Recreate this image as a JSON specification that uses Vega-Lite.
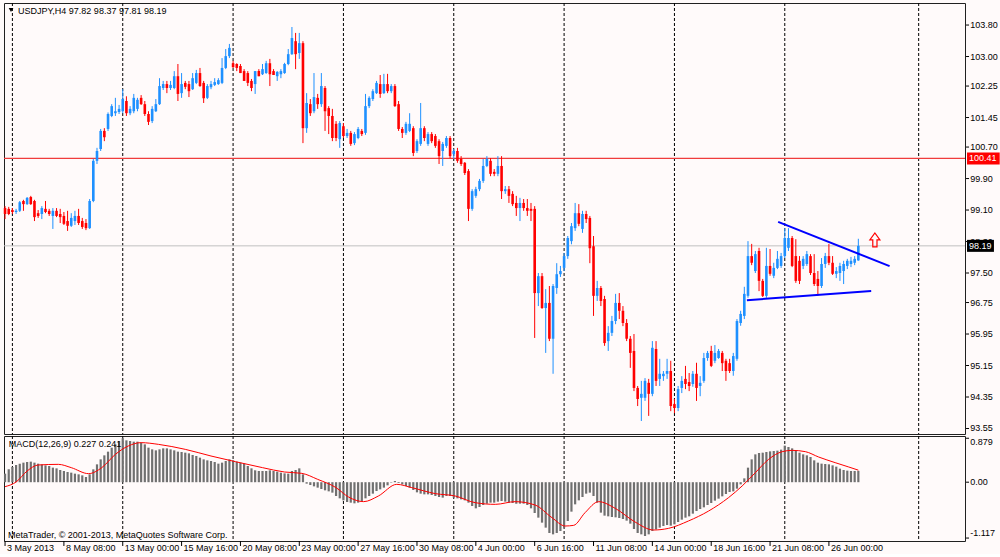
{
  "$schema": "https://vega.github.io/schema/vega-lite/v6.json",
  "background": "#FFFAFA",
  "padding": {"left": 2, "top": 2, "right": 0, "bottom": 0},
  "spacing": 2,
  "bounds": "flush",
  "config": {
    "view": {"stroke": "#202020", "strokeWidth": 1},
    "scale": {"continuousPadding": 0},
    "text": {"font": "Liberation Sans", "fontSize": 9, "color": "#000000"}
  },
  "datasets": {
    "bars": [
      {"i":0,"o":99.15,"h":99.20,"l":98.87,"c":99.00,"m":0.171},
      {"i":1,"o":99.13,"h":99.18,"l":98.97,"c":99.00,"m":0.257},
      {"i":2,"o":99.10,"h":99.15,"l":99.00,"c":99.05,"m":0.304},
      {"i":3,"o":99.05,"h":99.13,"l":99.00,"c":99.08,"m":0.344},
      {"i":4,"o":99.08,"h":99.33,"l":99.05,"c":99.30,"m":0.371},
      {"i":5,"o":99.33,"h":99.36,"l":99.08,"c":99.25,"m":0.391},
      {"i":6,"o":99.25,"h":99.43,"l":99.23,"c":99.41,"m":0.404},
      {"i":7,"o":99.43,"h":99.46,"l":99.23,"c":99.25,"m":0.411},
      {"i":8,"o":99.33,"h":99.36,"l":98.82,"c":98.92,"m":0.391},
      {"i":9,"o":99.02,"h":99.10,"l":98.90,"c":98.95,"m":0.371},
      {"i":10,"o":99.00,"h":99.20,"l":98.87,"c":99.15,"m":0.357},
      {"i":11,"o":99.13,"h":99.33,"l":99.02,"c":99.05,"m":0.337},
      {"i":12,"o":99.08,"h":99.13,"l":98.95,"c":99.00,"m":0.324},
      {"i":13,"o":98.95,"h":99.15,"l":98.62,"c":99.08,"m":0.291},
      {"i":14,"o":99.08,"h":99.15,"l":98.92,"c":98.95,"m":0.277},
      {"i":15,"o":99.00,"h":99.13,"l":98.77,"c":98.92,"m":0.244},
      {"i":16,"o":98.95,"h":99.05,"l":98.72,"c":98.75,"m":0.224},
      {"i":17,"o":98.82,"h":99.08,"l":98.57,"c":98.70,"m":0.204},
      {"i":18,"o":98.70,"h":99.02,"l":98.67,"c":98.90,"m":0.191},
      {"i":19,"o":98.82,"h":99.08,"l":98.72,"c":98.95,"m":0.171},
      {"i":20,"o":98.95,"h":99.13,"l":98.72,"c":98.77,"m":0.157},
      {"i":21,"o":98.82,"h":98.90,"l":98.62,"c":98.67,"m":0.137},
      {"i":22,"o":98.77,"h":98.87,"l":98.59,"c":98.64,"m":0.104},
      {"i":23,"o":98.64,"h":99.38,"l":98.62,"c":99.33,"m":0.157},
      {"i":24,"o":99.33,"h":100.40,"l":99.30,"c":100.35,"m":0.257},
      {"i":25,"o":100.35,"h":100.68,"l":100.27,"c":100.60,"m":0.357},
      {"i":26,"o":100.65,"h":101.16,"l":100.60,"c":101.11,"m":0.457},
      {"i":27,"o":101.11,"h":101.18,"l":100.85,"c":100.95,"m":0.537},
      {"i":28,"o":101.16,"h":101.58,"l":101.11,"c":101.54,"m":0.611},
      {"i":29,"o":101.49,"h":101.79,"l":101.46,"c":101.74,"m":0.691},
      {"i":30,"o":101.56,"h":101.95,"l":101.49,"c":101.61,"m":0.757},
      {"i":31,"o":101.59,"h":101.77,"l":101.54,"c":101.67,"m":0.824},
      {"i":32,"o":101.61,"h":102.17,"l":101.56,"c":101.92,"m":0.879},
      {"i":33,"o":101.87,"h":101.99,"l":101.49,"c":101.56,"m":0.837},
      {"i":34,"o":101.56,"h":101.74,"l":101.51,"c":101.67,"m":0.824},
      {"i":35,"o":101.61,"h":102.05,"l":101.56,"c":101.95,"m":0.811},
      {"i":36,"o":101.67,"h":101.95,"l":101.61,"c":101.90,"m":0.811},
      {"i":37,"o":101.95,"h":102.02,"l":101.77,"c":101.79,"m":0.791},
      {"i":38,"o":101.79,"h":101.87,"l":101.49,"c":101.54,"m":0.757},
      {"i":39,"o":101.54,"h":101.61,"l":101.26,"c":101.34,"m":0.691},
      {"i":40,"o":101.36,"h":101.74,"l":101.31,"c":101.67,"m":0.657},
      {"i":41,"o":101.61,"h":101.92,"l":101.59,"c":101.79,"m":0.637},
      {"i":42,"o":101.79,"h":102.45,"l":101.77,"c":102.25,"m":0.657},
      {"i":43,"o":102.20,"h":102.38,"l":102.15,"c":102.30,"m":0.677},
      {"i":44,"o":102.30,"h":102.38,"l":102.07,"c":102.20,"m":0.677},
      {"i":45,"o":102.20,"h":102.38,"l":102.15,"c":102.28,"m":0.657},
      {"i":46,"o":102.20,"h":102.63,"l":102.17,"c":102.50,"m":0.637},
      {"i":47,"o":102.50,"h":102.81,"l":101.87,"c":102.05,"m":0.611},
      {"i":48,"o":102.07,"h":102.58,"l":101.95,"c":102.30,"m":0.604},
      {"i":49,"o":102.33,"h":102.38,"l":102.17,"c":102.23,"m":0.591},
      {"i":50,"o":102.30,"h":102.38,"l":101.97,"c":102.12,"m":0.577},
      {"i":51,"o":102.17,"h":102.58,"l":102.15,"c":102.45,"m":0.544},
      {"i":52,"o":102.33,"h":102.66,"l":102.30,"c":102.58,"m":0.524},
      {"i":53,"o":102.58,"h":102.71,"l":102.23,"c":102.25,"m":0.491},
      {"i":54,"o":102.33,"h":102.38,"l":101.82,"c":101.94,"m":0.457},
      {"i":55,"o":101.95,"h":102.30,"l":101.92,"c":102.25,"m":0.437},
      {"i":56,"o":102.22,"h":102.38,"l":102.17,"c":102.30,"m":0.424},
      {"i":57,"o":102.28,"h":102.45,"l":102.25,"c":102.35,"m":0.404},
      {"i":58,"o":102.30,"h":102.45,"l":102.28,"c":102.40,"m":0.371},
      {"i":59,"o":102.33,"h":102.96,"l":102.30,"c":102.71,"m":0.391},
      {"i":60,"o":102.71,"h":103.19,"l":102.68,"c":103.01,"m":0.424},
      {"i":61,"o":103.01,"h":103.32,"l":102.96,"c":103.22,"m":0.457},
      {"i":62,"o":102.83,"h":102.89,"l":102.71,"c":102.73,"m":0.437},
      {"i":63,"o":102.81,"h":102.83,"l":102.63,"c":102.71,"m":0.411},
      {"i":64,"o":102.76,"h":102.81,"l":102.58,"c":102.58,"m":0.391},
      {"i":65,"o":102.63,"h":102.68,"l":102.38,"c":102.38,"m":0.371},
      {"i":66,"o":102.58,"h":102.63,"l":102.25,"c":102.33,"m":0.324},
      {"i":67,"o":102.38,"h":102.43,"l":102.12,"c":102.20,"m":0.277},
      {"i":68,"o":102.30,"h":102.63,"l":102.05,"c":102.63,"m":0.237},
      {"i":69,"o":102.63,"h":102.68,"l":102.50,"c":102.50,"m":0.224},
      {"i":70,"o":102.55,"h":102.81,"l":102.53,"c":102.68,"m":0.224},
      {"i":71,"o":102.58,"h":102.89,"l":102.56,"c":102.83,"m":0.224},
      {"i":72,"o":102.83,"h":102.94,"l":102.25,"c":102.55,"m":0.237},
      {"i":73,"o":102.63,"h":102.68,"l":102.53,"c":102.53,"m":0.224},
      {"i":74,"o":102.50,"h":102.63,"l":102.38,"c":102.61,"m":0.211},
      {"i":75,"o":102.55,"h":102.68,"l":102.45,"c":102.63,"m":0.191},
      {"i":76,"o":102.58,"h":102.84,"l":102.56,"c":102.81,"m":0.177},
      {"i":77,"o":102.81,"h":103.19,"l":102.78,"c":103.06,"m":0.171},
      {"i":78,"o":103.06,"h":103.75,"l":103.04,"c":103.47,"m":0.224},
      {"i":79,"o":103.39,"h":103.60,"l":102.68,"c":103.06,"m":0.244},
      {"i":80,"o":103.09,"h":103.60,"l":102.94,"c":103.34,"m":0.277},
      {"i":81,"o":103.34,"h":103.39,"l":100.80,"c":101.18,"m":0.157},
      {"i":82,"o":101.18,"h":102.07,"l":101.06,"c":101.82,"m":-0.029},
      {"i":83,"o":101.79,"h":101.92,"l":101.49,"c":101.56,"m":-0.056},
      {"i":84,"o":101.61,"h":102.58,"l":101.56,"c":101.97,"m":-0.083},
      {"i":85,"o":101.95,"h":102.05,"l":101.67,"c":101.79,"m":-0.109},
      {"i":86,"o":101.79,"h":102.58,"l":101.72,"c":102.25,"m":-0.136},
      {"i":87,"o":102.20,"h":102.25,"l":101.11,"c":101.61,"m":-0.163},
      {"i":88,"o":101.69,"h":101.74,"l":101.03,"c":101.49,"m":-0.183},
      {"i":89,"o":101.49,"h":101.67,"l":100.85,"c":100.93,"m":-0.209},
      {"i":90,"o":101.29,"h":101.36,"l":100.85,"c":100.93,"m":-0.276},
      {"i":91,"o":100.90,"h":101.36,"l":100.68,"c":101.31,"m":-0.323},
      {"i":92,"o":101.23,"h":101.31,"l":100.93,"c":100.98,"m":-0.363},
      {"i":93,"o":100.98,"h":101.16,"l":100.93,"c":101.06,"m":-0.396},
      {"i":94,"o":101.06,"h":101.11,"l":100.73,"c":100.78,"m":-0.409},
      {"i":95,"o":100.80,"h":101.08,"l":100.75,"c":101.03,"m":-0.423},
      {"i":96,"o":100.93,"h":101.21,"l":100.90,"c":101.16,"m":-0.409},
      {"i":97,"o":101.11,"h":101.16,"l":100.98,"c":101.03,"m":-0.376},
      {"i":98,"o":101.06,"h":102.05,"l":101.01,"c":101.74,"m":-0.323},
      {"i":99,"o":101.74,"h":101.99,"l":101.69,"c":101.95,"m":-0.276},
      {"i":100,"o":101.92,"h":102.17,"l":101.87,"c":102.12,"m":-0.229},
      {"i":101,"o":102.07,"h":102.38,"l":102.05,"c":102.33,"m":-0.176},
      {"i":102,"o":102.30,"h":102.53,"l":101.95,"c":102.05,"m":-0.143},
      {"i":103,"o":102.07,"h":102.56,"l":102.05,"c":102.30,"m":-0.109},
      {"i":104,"o":102.30,"h":102.56,"l":102.07,"c":102.12,"m":-0.063},
      {"i":105,"o":102.12,"h":102.30,"l":102.07,"c":102.25,"m":-0.009},
      {"i":106,"o":102.25,"h":102.30,"l":101.72,"c":101.74,"m":0.024},
      {"i":107,"o":101.79,"h":101.87,"l":101.11,"c":101.16,"m":-0.016},
      {"i":108,"o":101.16,"h":101.21,"l":100.93,"c":101.06,"m":-0.043},
      {"i":109,"o":101.06,"h":101.34,"l":101.01,"c":101.29,"m":-0.076},
      {"i":110,"o":101.11,"h":101.56,"l":101.08,"c":101.29,"m":-0.109},
      {"i":111,"o":101.18,"h":101.23,"l":100.47,"c":100.55,"m":-0.156},
      {"i":112,"o":100.60,"h":100.90,"l":100.55,"c":100.85,"m":-0.203},
      {"i":113,"o":100.78,"h":101.82,"l":100.73,"c":101.18,"m":-0.229},
      {"i":114,"o":101.18,"h":101.23,"l":100.85,"c":100.93,"m":-0.243},
      {"i":115,"o":100.78,"h":101.08,"l":100.73,"c":101.03,"m":-0.243},
      {"i":116,"o":101.03,"h":101.08,"l":100.80,"c":100.85,"m":-0.256},
      {"i":117,"o":100.98,"h":101.03,"l":100.68,"c":100.73,"m":-0.276},
      {"i":118,"o":100.85,"h":100.90,"l":100.27,"c":100.47,"m":-0.296},
      {"i":119,"o":100.60,"h":100.83,"l":100.22,"c":100.78,"m":-0.309},
      {"i":120,"o":100.73,"h":100.98,"l":100.68,"c":100.93,"m":-0.276},
      {"i":121,"o":100.93,"h":100.98,"l":100.42,"c":100.47,"m":-0.276},
      {"i":122,"o":100.52,"h":100.65,"l":100.40,"c":100.60,"m":-0.309},
      {"i":123,"o":100.60,"h":100.68,"l":100.30,"c":100.35,"m":-0.323},
      {"i":124,"o":100.40,"h":100.47,"l":100.22,"c":100.27,"m":-0.343},
      {"i":125,"o":100.30,"h":100.32,"l":99.99,"c":100.04,"m":-0.363},
      {"i":126,"o":100.09,"h":100.14,"l":98.82,"c":99.13,"m":-0.409},
      {"i":127,"o":99.13,"h":99.63,"l":99.08,"c":99.58,"m":-0.476},
      {"i":128,"o":99.46,"h":99.69,"l":99.41,"c":99.63,"m":-0.523},
      {"i":129,"o":99.63,"h":99.89,"l":99.58,"c":99.84,"m":-0.496},
      {"i":130,"o":99.84,"h":100.40,"l":99.79,"c":100.22,"m":-0.456},
      {"i":131,"o":100.22,"h":100.47,"l":100.19,"c":100.40,"m":-0.429},
      {"i":132,"o":100.35,"h":100.42,"l":99.96,"c":100.02,"m":-0.409},
      {"i":133,"o":100.07,"h":100.14,"l":99.96,"c":100.02,"m":-0.409},
      {"i":134,"o":100.02,"h":100.47,"l":99.96,"c":100.22,"m":-0.389},
      {"i":135,"o":100.22,"h":100.47,"l":99.38,"c":99.58,"m":-0.376},
      {"i":136,"o":99.58,"h":99.71,"l":99.51,"c":99.63,"m":-0.389},
      {"i":137,"o":99.63,"h":99.71,"l":99.28,"c":99.46,"m":-0.409},
      {"i":138,"o":99.51,"h":99.58,"l":99.20,"c":99.25,"m":-0.416},
      {"i":139,"o":99.28,"h":99.46,"l":98.95,"c":99.15,"m":-0.429},
      {"i":140,"o":99.15,"h":99.41,"l":98.82,"c":99.28,"m":-0.429},
      {"i":141,"o":99.28,"h":99.38,"l":99.08,"c":99.15,"m":-0.429},
      {"i":142,"o":99.15,"h":99.38,"l":98.95,"c":99.08,"m":-0.456},
      {"i":143,"o":99.13,"h":99.28,"l":98.82,"c":99.08,"m":-0.523},
      {"i":144,"o":99.13,"h":99.20,"l":95.85,"c":96.99,"m":-0.616},
      {"i":145,"o":96.99,"h":97.50,"l":96.66,"c":97.42,"m":-0.709},
      {"i":146,"o":97.42,"h":97.50,"l":96.59,"c":96.61,"m":-0.809},
      {"i":147,"o":96.61,"h":97.09,"l":95.47,"c":96.74,"m":-0.909},
      {"i":148,"o":96.74,"h":97.17,"l":95.77,"c":95.83,"m":-1.016},
      {"i":149,"o":95.83,"h":97.22,"l":94.94,"c":97.17,"m":-1.043},
      {"i":150,"o":97.12,"h":97.75,"l":96.97,"c":97.47,"m":-1.016},
      {"i":151,"o":97.47,"h":97.68,"l":97.40,"c":97.55,"m":-0.976},
      {"i":152,"o":97.63,"h":98.01,"l":97.55,"c":97.93,"m":-0.909},
      {"i":153,"o":97.93,"h":98.44,"l":97.86,"c":98.39,"m":-0.776},
      {"i":154,"o":98.31,"h":98.77,"l":98.23,"c":98.69,"m":-0.589},
      {"i":155,"o":98.64,"h":99.28,"l":98.57,"c":99.02,"m":-0.443},
      {"i":156,"o":99.02,"h":99.25,"l":98.69,"c":98.75,"m":-0.363},
      {"i":157,"o":98.62,"h":99.08,"l":98.52,"c":99.00,"m":-0.296},
      {"i":158,"o":99.00,"h":99.08,"l":98.77,"c":98.87,"m":-0.229},
      {"i":159,"o":98.90,"h":98.95,"l":97.75,"c":98.13,"m":-0.209},
      {"i":160,"o":98.18,"h":98.44,"l":96.41,"c":96.92,"m":-0.276},
      {"i":161,"o":96.92,"h":97.30,"l":96.79,"c":97.12,"m":-0.409},
      {"i":162,"o":97.12,"h":97.17,"l":96.66,"c":96.79,"m":-0.609},
      {"i":163,"o":96.84,"h":96.92,"l":95.65,"c":95.72,"m":-0.669},
      {"i":164,"o":95.77,"h":96.15,"l":95.52,"c":95.98,"m":-0.683},
      {"i":165,"o":95.98,"h":96.41,"l":95.90,"c":96.28,"m":-0.696},
      {"i":166,"o":96.28,"h":96.97,"l":96.20,"c":96.74,"m":-0.703},
      {"i":167,"o":96.74,"h":96.99,"l":96.33,"c":96.54,"m":-0.716},
      {"i":168,"o":96.54,"h":96.66,"l":96.15,"c":96.23,"m":-0.736},
      {"i":169,"o":96.23,"h":96.33,"l":95.77,"c":95.83,"m":-0.769},
      {"i":170,"o":95.83,"h":95.90,"l":95.09,"c":95.47,"m":-0.829},
      {"i":171,"o":95.52,"h":95.95,"l":94.50,"c":94.58,"m":-0.936},
      {"i":172,"o":94.58,"h":94.63,"l":94.12,"c":94.30,"m":-1.016},
      {"i":173,"o":94.33,"h":94.76,"l":93.74,"c":94.43,"m":-1.043},
      {"i":174,"o":94.33,"h":94.83,"l":94.25,"c":94.76,"m":-1.076},
      {"i":175,"o":94.71,"h":94.81,"l":93.87,"c":94.43,"m":-1.043},
      {"i":176,"o":94.43,"h":95.77,"l":94.37,"c":95.60,"m":-0.976},
      {"i":177,"o":95.57,"h":95.77,"l":94.63,"c":94.76,"m":-0.943},
      {"i":178,"o":94.81,"h":95.32,"l":94.63,"c":94.94,"m":-0.909},
      {"i":179,"o":94.88,"h":95.01,"l":94.76,"c":94.94,"m":-0.876},
      {"i":180,"o":94.94,"h":95.32,"l":94.81,"c":95.01,"m":-0.856},
      {"i":181,"o":95.01,"h":95.27,"l":93.99,"c":94.12,"m":-0.869},
      {"i":182,"o":94.17,"h":94.30,"l":93.94,"c":94.07,"m":-0.843},
      {"i":183,"o":94.07,"h":94.63,"l":93.99,"c":94.55,"m":-0.796},
      {"i":184,"o":94.58,"h":94.88,"l":94.45,"c":94.76,"m":-0.749},
      {"i":185,"o":94.81,"h":95.14,"l":94.55,"c":94.68,"m":-0.709},
      {"i":186,"o":94.73,"h":94.96,"l":94.50,"c":94.63,"m":-0.683},
      {"i":187,"o":94.68,"h":95.01,"l":94.61,"c":94.94,"m":-0.629},
      {"i":188,"o":94.94,"h":95.22,"l":94.25,"c":94.58,"m":-0.576},
      {"i":189,"o":94.63,"h":94.88,"l":94.37,"c":94.71,"m":-0.536},
      {"i":190,"o":94.76,"h":95.47,"l":94.71,"c":95.34,"m":-0.503},
      {"i":191,"o":95.34,"h":95.52,"l":95.27,"c":95.47,"m":-0.456},
      {"i":192,"o":95.52,"h":95.65,"l":95.11,"c":95.14,"m":-0.416},
      {"i":193,"o":95.27,"h":95.67,"l":95.21,"c":95.47,"m":-0.369},
      {"i":194,"o":95.34,"h":95.57,"l":95.32,"c":95.52,"m":-0.329},
      {"i":195,"o":95.47,"h":95.52,"l":95.01,"c":95.21,"m":-0.283},
      {"i":196,"o":95.27,"h":95.32,"l":94.76,"c":95.01,"m":-0.236},
      {"i":197,"o":95.21,"h":95.32,"l":94.96,"c":95.01,"m":-0.196},
      {"i":198,"o":95.01,"h":95.47,"l":94.89,"c":95.39,"m":-0.183},
      {"i":199,"o":95.32,"h":96.33,"l":95.27,"c":96.28,"m":-0.129},
      {"i":200,"o":96.23,"h":96.54,"l":96.16,"c":96.46,"m":-0.043},
      {"i":201,"o":96.41,"h":97.15,"l":96.33,"c":96.97,"m":0.077},
      {"i":202,"o":96.92,"h":98.31,"l":96.87,"c":97.93,"m":0.291},
      {"i":203,"o":97.93,"h":98.24,"l":97.70,"c":97.76,"m":0.457},
      {"i":204,"o":97.55,"h":98.06,"l":97.50,"c":97.98,"m":0.557},
      {"i":205,"o":98.06,"h":98.14,"l":97.04,"c":97.30,"m":0.584},
      {"i":206,"o":97.30,"h":97.35,"l":96.89,"c":96.92,"m":0.591},
      {"i":207,"o":96.92,"h":98.14,"l":96.87,"c":97.68,"m":0.604},
      {"i":208,"o":97.68,"h":98.11,"l":97.43,"c":97.48,"m":0.617},
      {"i":209,"o":97.43,"h":97.76,"l":97.37,"c":97.63,"m":0.624},
      {"i":210,"o":97.63,"h":98.06,"l":97.60,"c":97.86,"m":0.631},
      {"i":211,"o":97.68,"h":98.01,"l":97.63,"c":97.93,"m":0.651},
      {"i":212,"o":97.93,"h":98.64,"l":97.88,"c":98.39,"m":0.731},
      {"i":213,"o":98.14,"h":98.64,"l":98.06,"c":98.39,"m":0.704},
      {"i":214,"o":98.39,"h":98.44,"l":97.65,"c":97.68,"m":0.677},
      {"i":215,"o":97.93,"h":98.36,"l":97.25,"c":97.30,"m":0.624},
      {"i":216,"o":97.81,"h":97.93,"l":97.22,"c":97.30,"m":0.591},
      {"i":217,"o":97.68,"h":97.93,"l":97.60,"c":97.86,"m":0.557},
      {"i":218,"o":97.73,"h":98.06,"l":97.68,"c":97.98,"m":0.537},
      {"i":219,"o":97.93,"h":97.98,"l":97.45,"c":97.50,"m":0.504},
      {"i":220,"o":97.50,"h":97.98,"l":97.17,"c":97.22,"m":0.437},
      {"i":221,"o":97.35,"h":97.55,"l":96.92,"c":97.17,"m":0.391},
      {"i":222,"o":97.17,"h":97.88,"l":97.12,"c":97.73,"m":0.371},
      {"i":223,"o":97.73,"h":98.01,"l":97.63,"c":97.93,"m":0.364},
      {"i":224,"o":97.93,"h":98.24,"l":97.70,"c":97.76,"m":0.357},
      {"i":225,"o":97.76,"h":97.93,"l":97.45,"c":97.48,"m":0.337},
      {"i":226,"o":97.48,"h":97.65,"l":97.37,"c":97.55,"m":0.311},
      {"i":227,"o":97.50,"h":97.76,"l":97.30,"c":97.68,"m":0.271},
      {"i":228,"o":97.55,"h":97.81,"l":97.22,"c":97.73,"m":0.244},
      {"i":229,"o":97.68,"h":97.86,"l":97.60,"c":97.81,"m":0.231},
      {"i":230,"o":97.73,"h":97.91,"l":97.65,"c":97.81,"m":0.224},
      {"i":231,"o":97.76,"h":97.93,"l":97.70,"c":97.86,"m":0.224},
      {"i":232,"o":97.82,"h":98.37,"l":97.81,"c":98.19,"m":0.227}
    ],
    "signal": [
      {"i":0,"s":-0.089},{"i":3,"s":0.004},{"i":6,"s":0.224},{"i":9,"s":0.344},
      {"i":14.5,"s":0.357},{"i":18,"s":0.291},{"i":22.7,"s":0.171},{"i":26.3,"s":0.291},
      {"i":30,"s":0.557},{"i":33.5,"s":0.724},{"i":37,"s":0.791},{"i":41.7,"s":0.757},
      {"i":49,"s":0.657},{"i":56,"s":0.524},{"i":62.6,"s":0.411},{"i":70,"s":0.291},
      {"i":76,"s":0.204},{"i":80.7,"s":0.177},{"i":85,"s":0.057},{"i":90,"s":-0.109},
      {"i":93.4,"s":-0.296},{"i":97.5,"s":-0.389},{"i":101.5,"s":-0.276},{"i":106.5,"s":-0.043},
      {"i":110.6,"s":-0.109},{"i":117,"s":-0.229},{"i":122.4,"s":-0.276},{"i":127.8,"s":-0.409},
      {"i":133.3,"s":-0.443},{"i":138.7,"s":-0.389},{"i":144.1,"s":-0.456},{"i":148.7,"s":-0.709},
      {"i":152.3,"s":-0.876},{"i":154.6,"s":-0.863},{"i":157.7,"s":-0.609},{"i":161.4,"s":-0.389},
      {"i":165.9,"s":-0.523},{"i":171.3,"s":-0.796},{"i":176.3,"s":-0.956},{"i":180.4,"s":-0.923},
      {"i":185.8,"s":-0.776},{"i":191.3,"s":-0.576},{"i":196.7,"s":-0.309},{"i":200.4,"s":-0.076},
      {"i":204,"s":0.191},{"i":207.6,"s":0.457},{"i":211.3,"s":0.611},{"i":214,"s":0.637},
      {"i":217.6,"s":0.611},{"i":221.2,"s":0.504},{"i":225.7,"s":0.391},{"i":229.4,"s":0.304},
      {"i":232,"s":0.241}
    ],
    "grid": [{"i":2},{"i":32},{"i":62},{"i":92},{"i":122},{"i":152},{"i":182},{"i":212},{"i":248.4}],
    "trend": [
      {"line":"upper","i":210.2,"p":98.80},{"line":"upper","i":240.5,"p":97.675},
      {"line":"lower","i":201.7,"p":96.81},{"line":"lower","i":235.5,"p":97.04}
    ],
    "priceTicks": [
      {"p":103.80,"t":"103.80"},{"p":103.00,"t":"103.00"},{"p":102.25,"t":"102.25"},{"p":101.45,"t":"101.45"},
      {"p":100.70,"t":"100.70"},{"p":99.90,"t":"99.90"},{"p":99.10,"t":"99.10"},{"p":98.30,"t":"98.30"},
      {"p":97.50,"t":"97.50"},{"p":96.75,"t":"96.75"},{"p":95.95,"t":"95.95"},{"p":95.15,"t":"95.15"},
      {"p":94.35,"t":"94.35"},{"p":93.55,"t":"93.55"}
    ],
    "timeTicks": [
      {"i":0,"t":"3 May 2013"},{"i":16,"t":"8 May 08:00"},{"i":32,"t":"13 May 00:00"},{"i":48,"t":"15 May 16:00"},
      {"i":64,"t":"20 May 08:00"},{"i":80,"t":"23 May 00:00"},{"i":96,"t":"27 May 16:00"},{"i":112,"t":"30 May 08:00"},
      {"i":128,"t":"4 Jun 00:00"},{"i":144,"t":"6 Jun 16:00"},{"i":160,"t":"11 Jun 08:00"},{"i":176,"t":"14 Jun 00:00"},
      {"i":192,"t":"18 Jun 16:00"},{"i":208,"t":"21 Jun 08:00"},{"i":224,"t":"26 Jun 00:00"}
    ]
  },
  "vconcat": [
    {
      "width": 961,
      "height": 431,
      "layer": [
        {
          "data": {"name": "grid"},
          "mark": {"type": "rule", "color": "#000000", "strokeWidth": 1, "strokeDash": [3, 2]},
          "encoding": {
            "x": {"field": "i", "type": "quantitative", "scale": {"domain": [-0.285, 261], "nice": false, "zero": false, "padding": 0}, "axis": null}
          }
        },
        {
          "data": {"values": [{"p": 100.41}]},
          "mark": {"type": "rule", "color": "#F03C3C", "strokeWidth": 1.3},
          "encoding": {
            "y": {"field": "p", "type": "quantitative", "scale": {"domain": [93.41, 104.36], "nice": false, "zero": false, "padding": 0}, "axis": null}
          }
        },
        {
          "data": {"values": [{"p": 98.19}]},
          "mark": {"type": "rule", "color": "#C0C0C0", "strokeWidth": 1},
          "encoding": {
            "y": {"field": "p", "type": "quantitative", "scale": {"domain": [93.41, 104.36], "nice": false, "zero": false, "padding": 0}, "axis": null}
          }
        },
        {
          "data": {"name": "bars"},
          "mark": {"type": "rule", "strokeWidth": 1},
          "encoding": {
            "x": {"field": "i", "type": "quantitative", "scale": {"domain": [-0.285, 261], "nice": false, "zero": false, "padding": 0}, "axis": null},
            "y": {"field": "l", "type": "quantitative", "scale": {"domain": [93.41, 104.36], "nice": false, "zero": false, "padding": 0}, "axis": null},
            "y2": {"field": "h"},
            "color": {"condition": {"test": "datum.c >= datum.o", "value": "#1E90FF"}, "value": "#FF0000"}
          }
        },
        {
          "data": {"name": "bars"},
          "mark": {"type": "bar", "width": 2.6},
          "encoding": {
            "x": {"field": "i", "type": "quantitative", "scale": {"domain": [-0.285, 261], "nice": false, "zero": false, "padding": 0}, "axis": null},
            "y": {"field": "o", "type": "quantitative", "scale": {"domain": [93.41, 104.36], "nice": false, "zero": false, "padding": 0}, "axis": null},
            "y2": {"field": "c"},
            "color": {"condition": {"test": "datum.c >= datum.o", "value": "#1E90FF"}, "value": "#FF0000"}
          }
        },
        {
          "data": {"name": "trend"},
          "mark": {"type": "line", "color": "#0000FF", "strokeWidth": 2},
          "encoding": {
            "x": {"field": "i", "type": "quantitative", "scale": {"domain": [-0.285, 261], "nice": false, "zero": false, "padding": 0}, "axis": null},
            "y": {"field": "p", "type": "quantitative", "scale": {"domain": [93.41, 104.36], "nice": false, "zero": false, "padding": 0}, "axis": null},
            "detail": {"field": "line"}
          }
        },
        {
          "data": {"values": [{"sig": "buy"}]},
          "mark": {"type": "point", "shape": "M-0.3,1L-0.3,0L-0.72,0L0,-1L0.72,0L0.3,0L0.3,1Z", "filled": false, "size": 196, "color": "#FF0000", "strokeWidth": 1.2, "opacity": 1},
          "encoding": {
            "x": {"datum": 236.5, "type": "quantitative", "scale": {"domain": [-0.285, 261], "nice": false, "zero": false, "padding": 0}, "axis": null},
            "y": {"datum": 98.34, "type": "quantitative", "scale": {"domain": [93.41, 104.36], "nice": false, "zero": false, "padding": 0}, "axis": null}
          }
        },
        {
          "data": {"name": "priceTicks"},
          "mark": {"type": "rule", "color": "#000000", "strokeWidth": 1},
          "encoding": {
            "x": {"datum": 261.285, "type": "quantitative", "scale": {"domain": [-0.285, 261], "nice": false, "zero": false, "padding": 0}, "axis": null},
            "x2": {"datum": 262.1},
            "y": {"field": "p", "type": "quantitative", "scale": {"domain": [93.41, 104.36], "nice": false, "zero": false, "padding": 0}, "axis": null}
          }
        },
        {
          "data": {"name": "priceTicks"},
          "mark": {"type": "text", "align": "left", "baseline": "middle", "fontSize": 9},
          "encoding": {
            "x": {"datum": 262.4, "type": "quantitative", "scale": {"domain": [-0.285, 261], "nice": false, "zero": false, "padding": 0}, "axis": null},
            "y": {"field": "p", "type": "quantitative", "scale": {"domain": [93.41, 104.36], "nice": false, "zero": false, "padding": 0}, "axis": null},
            "text": {"field": "t"}
          }
        },
        {
          "data": {"values": [{"p": 100.41, "t": "100.41"}]},
          "mark": {"type": "bar", "size": 12, "color": "#FF0000"},
          "encoding": {
            "x": {"datum": 261.55, "type": "quantitative", "scale": {"domain": [-0.285, 261], "nice": false, "zero": false, "padding": 0}, "axis": null},
            "x2": {"datum": 270.43},
            "y": {"field": "p", "type": "quantitative", "scale": {"domain": [93.41, 104.36], "nice": false, "zero": false, "padding": 0}, "axis": null}
          }
        },
        {
          "data": {"values": [{"p": 98.19, "t": "98.19"}]},
          "mark": {"type": "bar", "size": 12, "color": "#000000"},
          "encoding": {
            "x": {"datum": 261.55, "type": "quantitative", "scale": {"domain": [-0.285, 261], "nice": false, "zero": false, "padding": 0}, "axis": null},
            "x2": {"datum": 268.87},
            "y": {"field": "p", "type": "quantitative", "scale": {"domain": [93.41, 104.36], "nice": false, "zero": false, "padding": 0}, "axis": null}
          }
        },
        {
          "data": {"values": [{"p": 100.41, "t": "100.41"}, {"p": 98.19, "t": "98.19"}]},
          "mark": {"type": "text", "align": "left", "baseline": "middle", "color": "#FFFFFF", "fontSize": 9},
          "encoding": {
            "x": {"datum": 262.1, "type": "quantitative", "scale": {"domain": [-0.285, 261], "nice": false, "zero": false, "padding": 0}, "axis": null},
            "y": {"field": "p", "type": "quantitative", "scale": {"domain": [93.41, 104.36], "nice": false, "zero": false, "padding": 0}, "axis": null},
            "text": {"field": "t"}
          }
        },
        {
          "data": {"values": [{"t": "symbol"}]},
          "mark": {"type": "point", "shape": "triangle-down", "filled": true, "size": 22, "color": "#000000", "opacity": 1},
          "encoding": {
            "x": {"datum": 1.62, "type": "quantitative", "scale": {"domain": [-0.285, 261], "nice": false, "zero": false, "padding": 0}, "axis": null},
            "y": {"datum": 104.18, "type": "quantitative", "scale": {"domain": [93.41, 104.36], "nice": false, "zero": false, "padding": 0}, "axis": null}
          }
        },
        {
          "data": {"values": [{"t": "USDJPY,H4  97.82 98.37 97.81 98.19"}]},
          "mark": {"type": "text", "align": "left", "baseline": "middle", "fontSize": 9},
          "encoding": {
            "x": {"datum": 3.52, "type": "quantitative", "scale": {"domain": [-0.285, 261], "nice": false, "zero": false, "padding": 0}, "axis": null},
            "y": {"datum": 104.16, "type": "quantitative", "scale": {"domain": [93.41, 104.36], "nice": false, "zero": false, "padding": 0}, "axis": null},
            "text": {"field": "t"}
          }
        }
      ]
    },
    {
      "width": 961,
      "height": 105,
      "layer": [
        {
          "data": {"name": "grid"},
          "mark": {"type": "rule", "color": "#000000", "strokeWidth": 1, "strokeDash": [3, 2]},
          "encoding": {
            "x": {"field": "i", "type": "quantitative", "scale": {"domain": [-0.285, 261], "nice": false, "zero": false, "padding": 0}, "axis": null}
          }
        },
        {
          "data": {"name": "bars"},
          "mark": {"type": "bar", "width": 2.2, "color": "#707070"},
          "encoding": {
            "x": {"field": "i", "type": "quantitative", "scale": {"domain": [-0.285, 261], "nice": false, "zero": false, "padding": 0}, "axis": null},
            "y": {"field": "m", "type": "quantitative", "scale": {"domain": [-1.176, 0.924], "nice": false, "zero": false, "padding": 0}, "axis": null},
            "y2": {"datum": 0}
          }
        },
        {
          "data": {"name": "signal"},
          "mark": {"type": "line", "color": "#FF0000", "strokeWidth": 1, "interpolate": "monotone"},
          "encoding": {
            "x": {"field": "i", "type": "quantitative", "scale": {"domain": [-0.285, 261], "nice": false, "zero": false, "padding": 0}, "axis": null},
            "y": {"field": "s", "type": "quantitative", "scale": {"domain": [-1.176, 0.924], "nice": false, "zero": false, "padding": 0}, "axis": null}
          }
        },
        {
          "data": {"values": [{"m": 0.879, "t": "0.879"}, {"m": 0, "t": "0.00"}, {"m": -1.117, "t": "-1.117"}]},
          "mark": {"type": "rule", "color": "#000000", "strokeWidth": 1},
          "encoding": {
            "x": {"datum": 261.285, "type": "quantitative", "scale": {"domain": [-0.285, 261], "nice": false, "zero": false, "padding": 0}, "axis": null},
            "x2": {"datum": 262.1},
            "y": {"field": "m", "type": "quantitative", "scale": {"domain": [-1.176, 0.924], "nice": false, "zero": false, "padding": 0}, "axis": null}
          }
        },
        {
          "data": {"values": [{"m": 0.879, "t": "0.879"}]},
          "mark": {"type": "text", "align": "left", "baseline": "top", "fontSize": 9},
          "encoding": {
            "x": {"datum": 262.4, "type": "quantitative", "scale": {"domain": [-0.285, 261], "nice": false, "zero": false, "padding": 0}, "axis": null},
            "y": {"field": "m", "type": "quantitative", "scale": {"domain": [-1.176, 0.924], "nice": false, "zero": false, "padding": 0}, "axis": null},
            "text": {"field": "t"}
          }
        },
        {
          "data": {"values": [{"m": 0, "t": "0.00"}]},
          "mark": {"type": "text", "align": "left", "baseline": "middle", "fontSize": 9},
          "encoding": {
            "x": {"datum": 262.4, "type": "quantitative", "scale": {"domain": [-0.285, 261], "nice": false, "zero": false, "padding": 0}, "axis": null},
            "y": {"field": "m", "type": "quantitative", "scale": {"domain": [-1.176, 0.924], "nice": false, "zero": false, "padding": 0}, "axis": null},
            "text": {"field": "t"}
          }
        },
        {
          "data": {"values": [{"m": -1.117, "t": "-1.117"}]},
          "mark": {"type": "text", "align": "left", "baseline": "bottom", "fontSize": 9},
          "encoding": {
            "x": {"datum": 262.4, "type": "quantitative", "scale": {"domain": [-0.285, 261], "nice": false, "zero": false, "padding": 0}, "axis": null},
            "y": {"field": "m", "type": "quantitative", "scale": {"domain": [-1.176, 0.924], "nice": false, "zero": false, "padding": 0}, "axis": null},
            "text": {"field": "t"}
          }
        },
        {
          "data": {"name": "timeTicks"},
          "mark": {"type": "rule", "color": "#000000", "strokeWidth": 1},
          "encoding": {
            "x": {"field": "i", "type": "quantitative", "scale": {"domain": [-0.285, 261], "nice": false, "zero": false, "padding": 0}, "axis": null},
            "y": {"datum": -1.176, "type": "quantitative", "scale": {"domain": [-1.176, 0.924], "nice": false, "zero": false, "padding": 0}, "axis": null},
            "y2": {"datum": -1.276}
          }
        },
        {
          "data": {"name": "timeTicks"},
          "mark": {"type": "text", "align": "left", "baseline": "top", "dx": 2, "fontSize": 9},
          "encoding": {
            "x": {"field": "i", "type": "quantitative", "scale": {"domain": [-0.285, 261], "nice": false, "zero": false, "padding": 0}, "axis": null},
            "y": {"datum": -1.236, "type": "quantitative", "scale": {"domain": [-1.176, 0.924], "nice": false, "zero": false, "padding": 0}, "axis": null},
            "text": {"field": "t"}
          }
        },
        {
          "data": {"values": [{"t": "MACD(12,26,9) 0.227 0.241"}]},
          "mark": {"type": "text", "align": "left", "baseline": "middle", "fontSize": 9},
          "encoding": {
            "x": {"datum": 0.99, "type": "quantitative", "scale": {"domain": [-0.285, 261], "nice": false, "zero": false, "padding": 0}, "axis": null},
            "y": {"datum": 0.77, "type": "quantitative", "scale": {"domain": [-1.176, 0.924], "nice": false, "zero": false, "padding": 0}, "axis": null},
            "text": {"field": "t"}
          }
        },
        {
          "data": {"values": [{"t": "MetaTrader, © 2001-2013, MetaQuotes Software Corp."}]},
          "mark": {"type": "text", "align": "left", "baseline": "middle", "fontSize": 9},
          "encoding": {
            "x": {"datum": 0.8, "type": "quantitative", "scale": {"domain": [-0.285, 261], "nice": false, "zero": false, "padding": 0}, "axis": null},
            "y": {"datum": -1.056, "type": "quantitative", "scale": {"domain": [-1.176, 0.924], "nice": false, "zero": false, "padding": 0}, "axis": null},
            "text": {"field": "t"}
          }
        }
      ]
    }
  ]
}
